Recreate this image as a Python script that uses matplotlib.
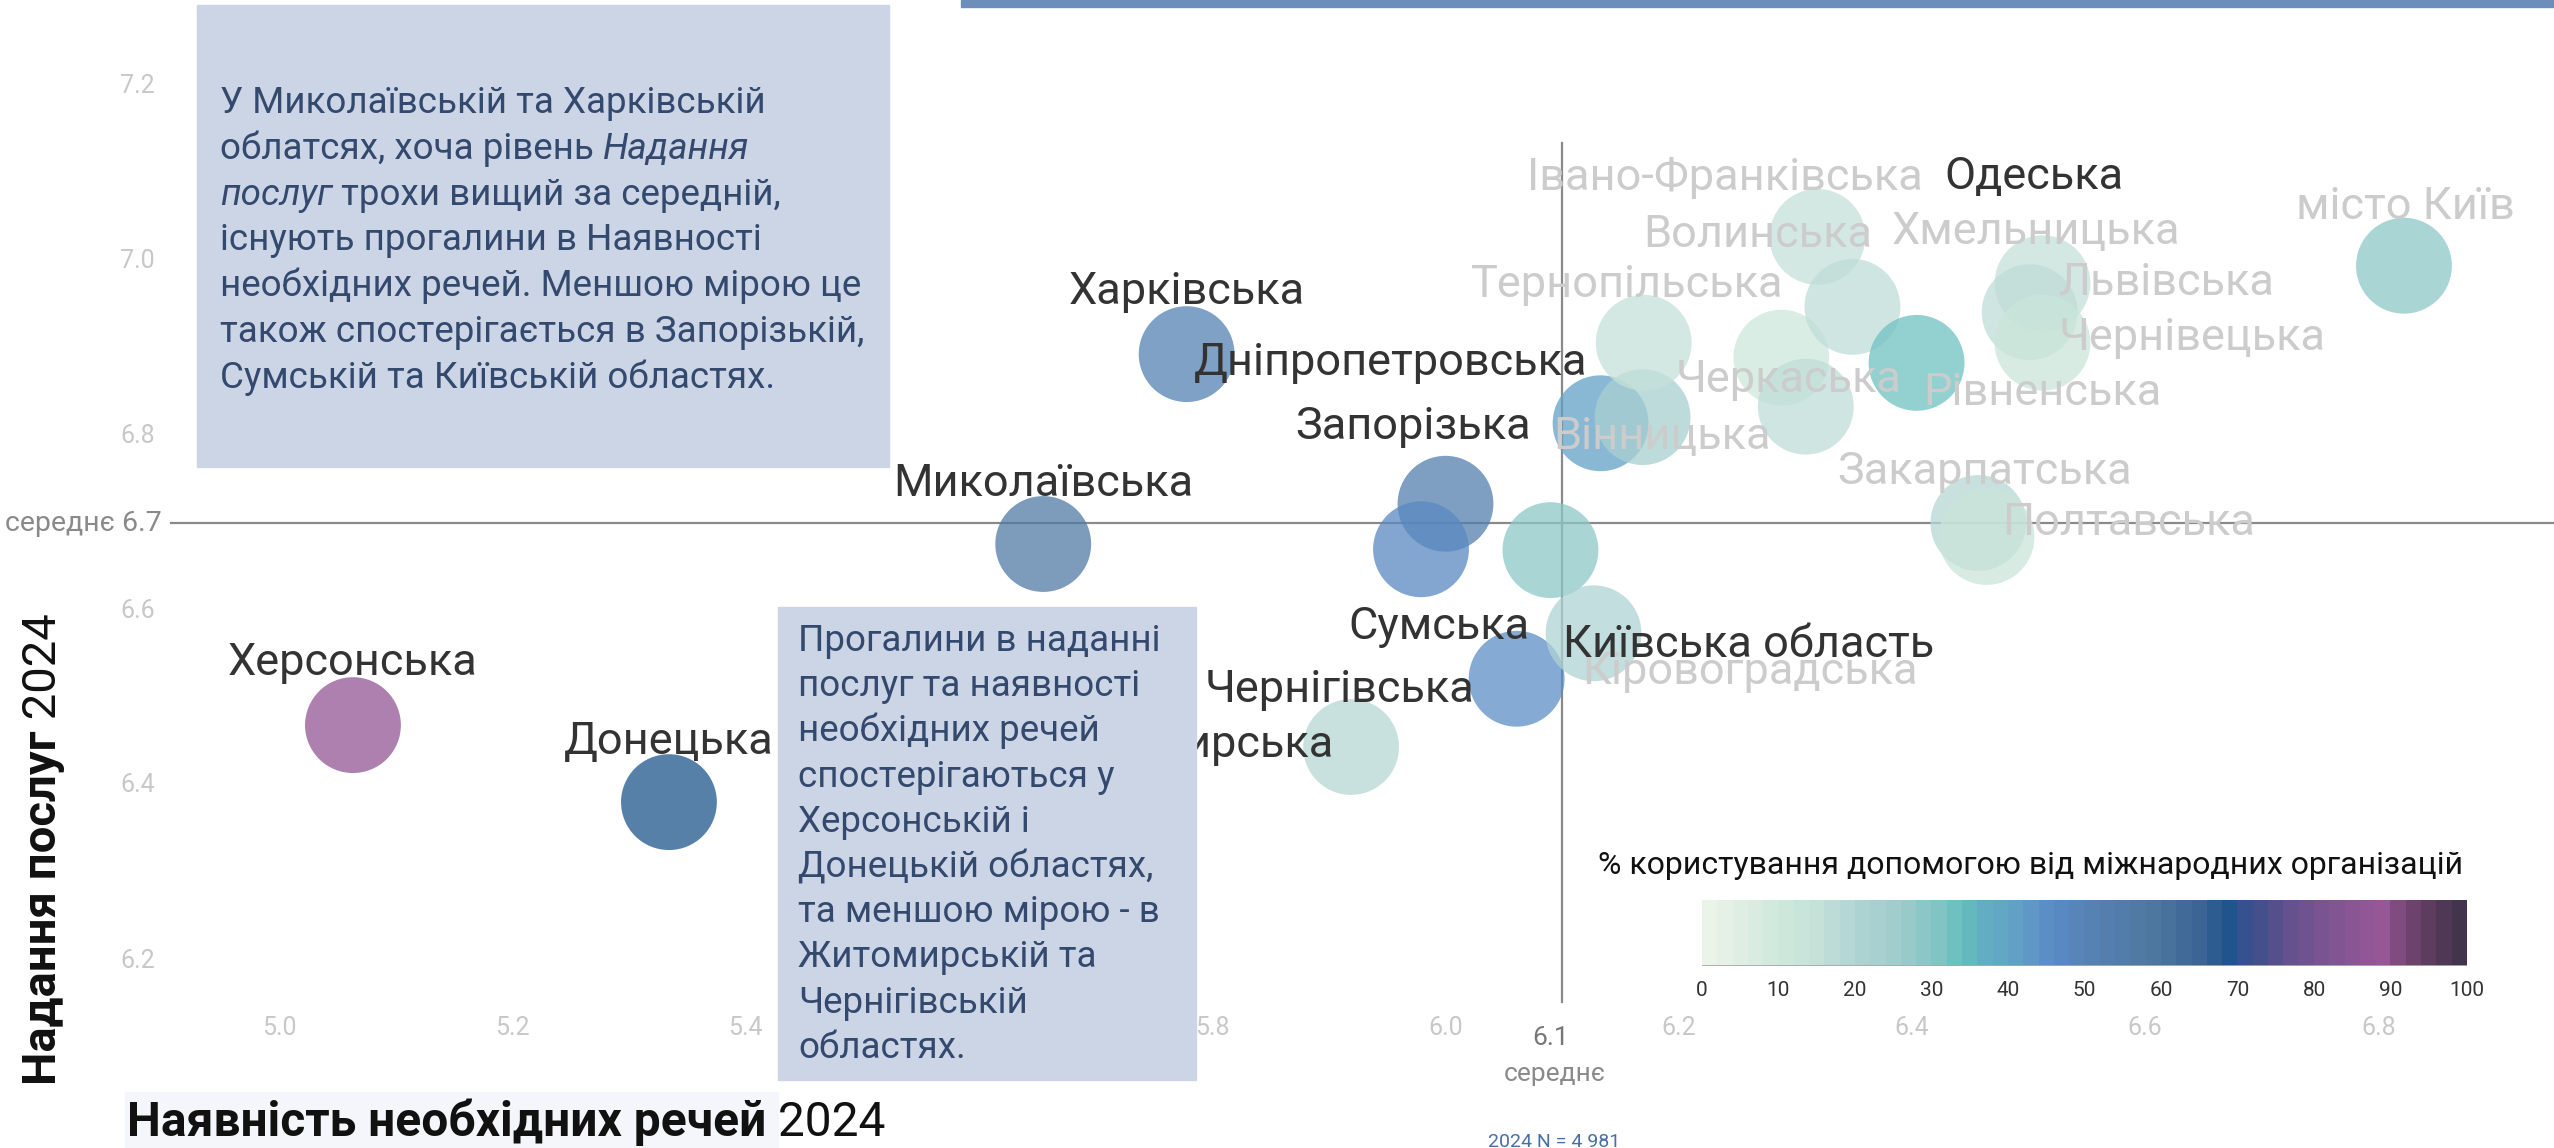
import numpy as np
import matplotlib
matplotlib.use('Agg')
import matplotlib.pyplot as plt
from matplotlib.colors import LinearSegmentedColormap, ListedColormap
from matplotlib.patches import Rectangle

plt.rcParams['font.family'] = ['Roboto', 'DejaVu Sans']

# --- data -------------------------------------------------------------
regions = ['Херсонська', 'Донецька', 'Миколаївська', 'Харківська', 'Запорізька',
           'Сумська', 'Чернігівська', 'Кіровоградська', 'Київська область', 'Житомирська',
           'Дніпропетровська', 'Вінницька', 'Тернопільська', 'Черкаська', 'Рівненська',
           'Івано-Франківська', 'Волинська', 'Одеська', 'Хмельницька', 'Львівська',
           'Чернівецька', 'Закарпатська', 'Полтавська', 'місто Київ']
# Наявність необхідних речей 2024
items = [5.063, 5.334, 5.655, 5.778, 6.000, 5.979, 6.061, 6.090, 6.127, 5.919,
         6.133, 6.169, 6.170, 6.288, 6.309, 6.319, 6.349, 6.404, 6.512, 6.501,
         6.512, 6.457, 6.464, 6.822]
# Надання послуг 2024
services = [6.469, 6.381, 6.676, 6.893, 6.722, 6.670, 6.522, 6.669, 6.574, 6.444,
            6.814, 6.821, 6.906, 6.889, 6.833, 7.027, 6.947, 6.883, 6.974, 6.941,
            6.906, 6.700, 6.684, 6.994]
# % користування допомогою від міжнародних організацій
aid = [86, 68, 57, 50, 53, 47, 44, 28, 20, 19,
       40, 22, 15, 10, 17, 15, 17, 32, 15, 17,
       12, 18, 12, 28]
highlight = ['Херсонська', 'Донецька', 'Миколаївська', 'Харківська', 'Запорізька',
             'Сумська', 'Чернігівська', 'Київська область', 'Житомирська',
             'Дніпропетровська', 'Одеська']

mean_x = 6.1
mean_y = 6.7
x_ticks = [5.0, 5.2, 5.4, 5.6, 5.8, 6.0, 6.2, 6.4, 6.6, 6.8]
y_ticks = [6.2, 6.4, 6.6, 6.8, 7.0, 7.2]
legend_ticks = [0, 10, 20, 30, 40, 50, 60, 70, 80, 90, 100]

# label placement (pixel offsets from the bubble, y down) and alignment
label_layout = [(0, -62, 'center'), (0, -60, 'center'), (0, -60, 'center'), (0, -62, 'center'),
                (-32, -77, 'center'), (18, 78, 'center'), (-42, 11, 'right'), (32, 122, 'left'),
                (-31, 12, 'left'), (-17, -2, 'right'), (-13, -60, 'right'), (19, 20, 'center'),
                (-17, -58, 'center'), (7, 22, 'center'), (117, -14, 'left'), (-93, -59, 'center'),
                (-95, -72, 'center'), (117, -186, 'center'), (-7, -51, 'center'), (29, -29, 'left'),
                (16, -5, 'left'), (6, -51, 'center'), (16, -14, 'left'), (1, -59, 'center')]

# colour scale
anchors = [(0, '#eef6ea'), (6, '#dcede2'), (10, '#d0eadc'), (16, '#c3dfd8'), (20, '#b0d4d4'),
           (26, '#a0cccc'), (31, '#80c4c4'), (34, '#66bfbf'), (37, '#62adc2'), (41, '#62a0c6'),
           (46, '#5b8bc6'), (52, '#5580b0'), (59, '#4f78a0'), (65, '#3d6596'), (69, '#1f558c'),
           (71, '#385090'), (74, '#4b508a'), (78, '#6a5290'), (82, '#7d5590'), (86, '#8e5595'),
           (89, '#985898'), (91, '#804c80'), (94, '#684068'), (99, '#42344c'), (100, '#42344c')]
smooth = LinearSegmentedColormap.from_list('aid', [(p / 100, c) for p, c in anchors])
cmap = ListedColormap([smooth((i + 0.5) / 50) for i in range(50)])

# --- figure -----------------------------------------------------------
W, H = 2554, 1148
PX_X, PX_Y = 1166.0, 875.0          # pixels per data unit
fig = plt.figure(figsize=(W / 100, H / 100), dpi=100)
ax = fig.add_axes([0, 0, 1, 1])
x0 = 5.0 - 279.5 / PX_X
y_top = mean_y + 523 / PX_Y
ax.set_xlim(x0, x0 + W / PX_X)
ax.set_ylim(y_top - H / PX_Y, y_top)
ax.axis('off')


def fx(px):
    return x0 + px / PX_X


def fy(py):
    return y_top - py / PX_Y


tick_c = '#c8c8c8'
for v in y_ticks:
    ax.text(fx(155), v, f'{v:.1f}', ha='right', va='center', fontsize=18, color=tick_c, zorder=1)
for v in x_ticks:
    ax.text(v, fy(1028), f'{v:.1f}', ha='center', va='center', fontsize=18, color=tick_c, zorder=1)

# mean lines
ax.plot([mean_x, mean_x], [fy(1002), fy(143)], color='#8a8a8a', lw=1.6, zorder=1)
ax.plot([fx(171), x0 + W / PX_X], [mean_y, mean_y], color='#8a8a8a', lw=1.6, zorder=1)
ax.text(fx(162), mean_y, 'середнє 6.7', ha='right', va='center', fontsize=20.5, color='#8a8a8a')
ax.text(mean_x - 0.01, fy(1038), '6.1', ha='center', va='center', fontsize=19, color='#777777')
ax.text(mean_x - 0.006, fy(1074), 'середнє', ha='center', va='center', fontsize=19, color='#8a8a8a')

# bubbles
ax.scatter(items, services, s=69 ** 2, c=aid, cmap=cmap, vmin=0, vmax=100,
           alpha=0.75, linewidths=0, zorder=3)

for name, xv, yv, (dx, dy, ha) in zip(regions, items, services, label_layout):
    col = '#333333' if name in highlight else '#cccccc'
    ax.annotate(name, (xv, yv), xytext=(dx, -dy), textcoords='offset pixels',
                ha=ha, va='center', fontsize=32.5, color=col, zorder=4)

# --- annotation boxes ---------------------------------------------------
box_c = '#ccd5e6'
txt_c = '#34496e'
fig.patches.append(Rectangle((197 / W, 1 - 467 / H), (889 - 197) / W, (467 - 5) / H,
                             transform=fig.transFigure, color=box_c, zorder=5))
fig.patches.append(Rectangle((778 / W, 1 - 1080 / H), (1196 - 778) / W, (1080 - 607) / H,
                             transform=fig.transFigure, color=box_c, zorder=5))
# top bar
fig.patches.append(Rectangle((961 / W, 1 - 7 / H), (W - 961) / W, 7 / H,
                             transform=fig.transFigure, color='#6b8fba', zorder=5))
# x-label background
fig.patches.append(Rectangle((125 / W, 0), (778 - 125) / W, (H - 1092) / H,
                             transform=fig.transFigure, color='#f4f6fb', zorder=0))

renderer = fig.canvas.get_renderer()


def rich(px, py, pieces, size, color, vertical=False):
    # chain text pieces with different styles from a baseline start point
    for s, style in pieces:
        kw = {}
        if style == 'i':
            kw['style'] = 'italic'
        if style == 'b':
            kw['weight'] = 'bold'
        t = fig.text(px / W, 1 - py / H, s, fontsize=size, color=color, ha='left',
                     va='baseline', rotation=90 if vertical else 0,
                     rotation_mode='anchor', zorder=6, **kw)
        bb = t.get_window_extent(renderer)
        if vertical:
            py -= bb.height
        else:
            px += bb.width


box1 = [[('У Миколаївській та Харківській', 'r')],
        [('облатсях, хоча рівень ', 'r'), ('Надання', 'i')],
        [('послуг', 'i'), (' трохи вищий за середній,', 'r')],
        [('існують прогалини в Наявності', 'r')],
        [('необхідних речей. Меншою мірою це', 'r')],
        [('також спостерігається в Запорізькій,', 'r')],
        [('Сумській та Київській областях.', 'r')]]
for i, line in enumerate(box1):
    rich(220, 113 + i * 45.8, line, 26.5, txt_c)

box2 = ['Прогалини в наданні', 'послуг та наявності', 'необхідних речей',
        'спостерігаються у', 'Херсонській і', 'Донецькій областях,',
        'та меншою мірою - в', 'Житомирській та', 'Чернігівській', 'областях.']
for i, line in enumerate(box2):
    rich(798, 651 + i * 45.2, [(line, 'r')], 26.5, txt_c)

# axis titles
rich(127, 1136, [('Наявність необхідних речей', 'b'), (' 2024', 'r')], 34.5, '#111111')
rich(56, 1085, [('Надання послуг', 'b'), (' 2024', 'r')], 34, '#111111', vertical=True)

fig.text(1554 / W, 1 - 1133 / H, '2024 N = 4 981', ha='center', va='top',
         fontsize=14, color='#4a6fa5')

# --- colour legend -----------------------------------------------------
fig.text(1598 / W, 1 - 865 / H, '% користування допомогою від міжнародних організацій',
         ha='left', va='center', fontsize=23, color='#111111')
lax = fig.add_axes([1702 / W, 1 - 966 / H, (2467 - 1702) / W, (966 - 900) / H])
lax.imshow(np.arange(50)[None, :], cmap=cmap, aspect='auto', extent=[0, 100, 0, 1])
lax.axhline(0, color='#aaaaaa', lw=2)
lax.set_xlim(0, 100)
lax.axis('off')
for v in legend_ticks:
    fig.text((1702 + (2467 - 1702) * v / 100) / W, 1 - 990 / H, str(v),
             ha='center', va='center', fontsize=15, color='#333333')

fig.savefig('out.png', dpi=100)
